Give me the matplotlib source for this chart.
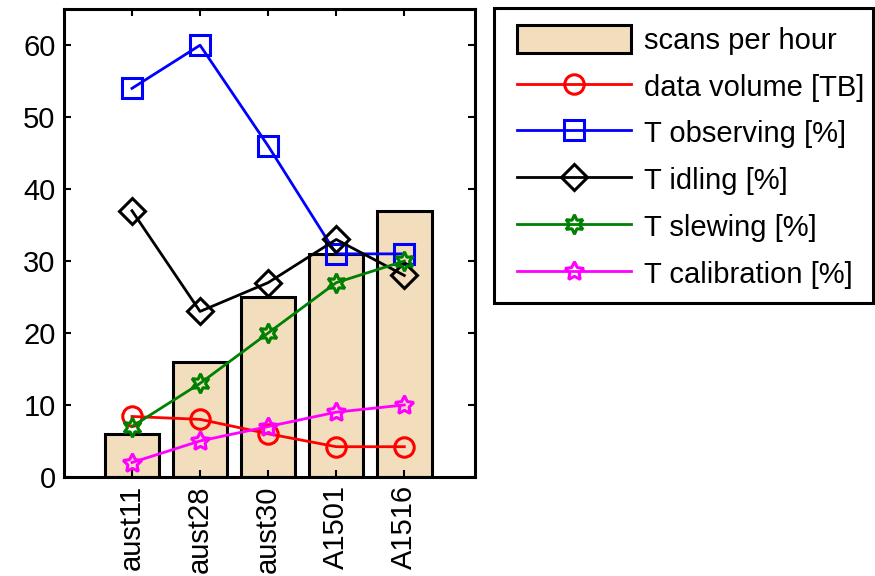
import matplotlib.pyplot as plt
import matplotlib.patches as mpatches
import numpy as np

plt.rcParams['font.family'] = ['Liberation Sans', 'DejaVu Sans']

sessions = ["aust11", "aust28", "aust30", "A1501", "A1516"]
scans_per_hour = [6, 16, 25, 31, 37]
data_volume = [8.4, 8.0, 6.0, 4.2, 4.2]
t_observing = [54, 60, 46, 31, 31]
t_idling = [37, 23, 27, 33, 28]
t_slewing = [7, 13, 20, 27, 30]
t_calibration = [2, 5, 7, 9, 10]

x = np.arange(1, len(sessions) + 1)

fig = plt.figure(figsize=(8.75, 5.76), dpi=100)
ax = fig.add_axes([0.073, 0.172, 0.470, 0.812])

ax.bar(x, scans_per_hour, width=0.8, color="#f2debd", edgecolor="black",
       linewidth=2.2, label="scans per hour", zorder=1)

lw = 2.0
ms = 14
mew = 2.2
ax.plot(x, data_volume, color="red", marker="o", ms=ms, mfc="none", mew=mew,
        lw=lw, label="data volume [TB]", zorder=3)
ax.plot(x, t_observing, color="blue", marker="s", ms=ms, mfc="none", mew=mew,
        lw=lw, label="T observing [%]", zorder=3)
ax.plot(x, t_idling, color="black", marker="D", ms=ms - 1, mfc="none", mew=mew,
        lw=lw, label="T idling [%]", zorder=3)
ax.plot(x, t_slewing, color="green", marker=(6, 1, 0), ms=ms, mfc="none", mew=mew,
        lw=lw, label="T slewing [%]", zorder=3)
ax.plot(x, t_calibration, color="magenta", marker=(5, 1, 0), ms=ms, mfc="none",
        mew=mew, lw=lw, label="T calibration [%]", zorder=3)

ax.set_xlim(0, 6.04)
ax.set_ylim(0, 65)
ax.set_xticks(x)
ax.set_xticklabels(sessions, rotation=90, fontsize=21)
ax.set_yticks(np.arange(0, 61, 10))
ax.tick_params(axis="y", labelsize=21)
ax.tick_params(direction="in", length=5, width=1.5, top=True, right=True, pad=6)
for s in ax.spines.values():
    s.set_linewidth(2.2)

# legend: bar first, then lines
handles, labels = ax.get_legend_handles_labels()
order = [5, 0, 1, 2, 3, 4]
fig.legend([handles[i] for i in order], [labels[i] for i in order],
           loc="upper left", bbox_to_anchor=(0.591, 0.957), fontsize=21,
           frameon=False, handlelength=3.9, handleheight=1.1, handletextpad=0.45,
           labelspacing=0.58, borderpad=0, borderaxespad=0)
fig.patches.append(mpatches.Rectangle((0.5646, 0.474), 0.4326, 0.512,
                                      transform=fig.transFigure, fill=False,
                                      edgecolor="black", linewidth=2.2))

fig.savefig("out.png", dpi=100)
